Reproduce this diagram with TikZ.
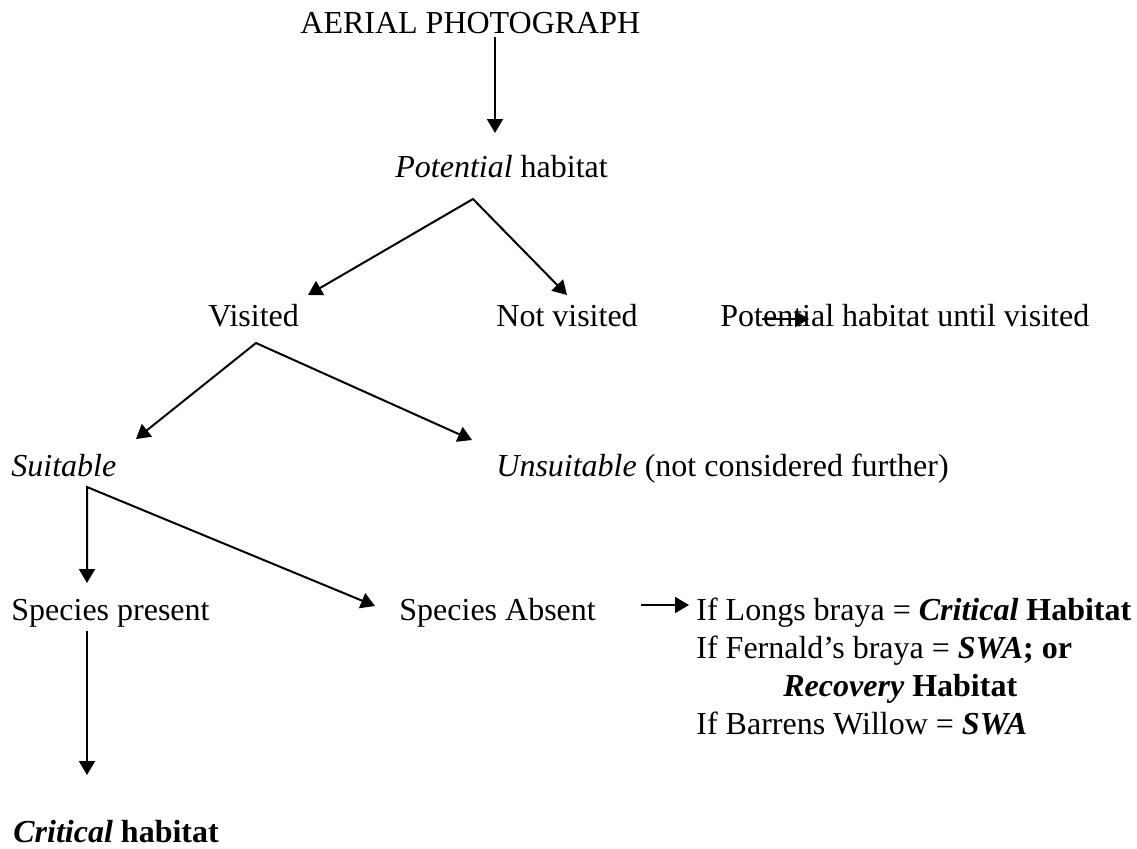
\documentclass[tikz,border=0pt]{standalone}
\usepackage{fontspec}
\setmainfont{Liberation Serif}
\usetikzlibrary{arrows.meta}
\begin{document}
\begin{tikzpicture}[x=0.5pt,y=-0.5pt,
  lbl/.style={inner sep=0pt,anchor=base west,font=\fontsize{16}{19}\selectfont},
  conn/.style={line width=1pt,line join=miter,-{Triangle[length=7pt,width=8pt]}},
  fork/.style={line width=1pt,line join=miter,{Triangle[length=7pt,width=8pt]}-{Triangle[length=7pt,width=8pt]}}]
\useasboundingbox (0,0) rectangle (1137,848);

% texts
\node[lbl] (aerial) at (300,33) {AERIAL PHOTOGRAPH};
\node[lbl] (potential) at (395,177) {\textit{Potential} habitat};
\node[lbl] (visited) at (208,326) {Visited};
\node[lbl] (notvisited) at (496,326) {Not visited};
\node[lbl] (until) at (720,326) {Potential habitat until visited};
\node[lbl] (suitable) at (11,476) {\textit{Suitable}};
\node[lbl] (unsuitable) at (496,476) {\textit{Unsuitable} (not considered further)};
\node[lbl] (present) at (11,620) {Species present};
\node[lbl] (absent) at (399,620) {Species Absent};
\node[lbl] (longs) at (696,620) {If Longs braya = \textbf{\textit{Critical}} \textbf{Habitat}};
\node[lbl] (fernald) at (696,658) {If Fernald’s braya = \textbf{\textit{SWA}}\textbf{; or}};
\node[lbl] (recovery) at (783,696) {\textbf{\textit{Recovery}} \textbf{Habitat}};
\node[lbl] (barrens) at (696,734) {If Barrens Willow = \textbf{\textit{SWA}}};
\node[lbl] (critical) at (13,842) {\textbf{\textit{Critical}} \textbf{habitat}};

% connector points
\coordinate (aerialfoot) at (495,37);
\coordinate (pottop) at (495,133);
\coordinate (potapex) at (473,199);
\coordinate (vistip) at (308,295);
\coordinate (notvistip) at (567,295);
\coordinate (untilstart) at (762,319);
\coordinate (untilend) at (809,319);
\coordinate (visapex) at (256,343);
\coordinate (suittip) at (136,439);
\coordinate (unsuittip) at (472,440);
\coordinate (suitapex) at (87,487);
\coordinate (presenttip) at (87,583);
\coordinate (absenttip) at (375,606);
\coordinate (absentstart) at (641,605);
\coordinate (absentend) at (689,605);
\coordinate (presentfoot) at (87,631);
\coordinate (criticaltip) at (87,775);

% connectors
\draw[conn] (aerialfoot) -- (pottop);
\draw[fork] (vistip) -- (potapex) -- (notvistip);
\draw[conn] (untilstart) -- (untilend);
\draw[fork] (suittip) -- (visapex) -- (unsuittip);
\draw[fork] (presenttip) -- (suitapex) -- (absenttip);
\draw[conn] (absentstart) -- (absentend);
\draw[conn] (presentfoot) -- (criticaltip);
\end{tikzpicture}
\end{document}
